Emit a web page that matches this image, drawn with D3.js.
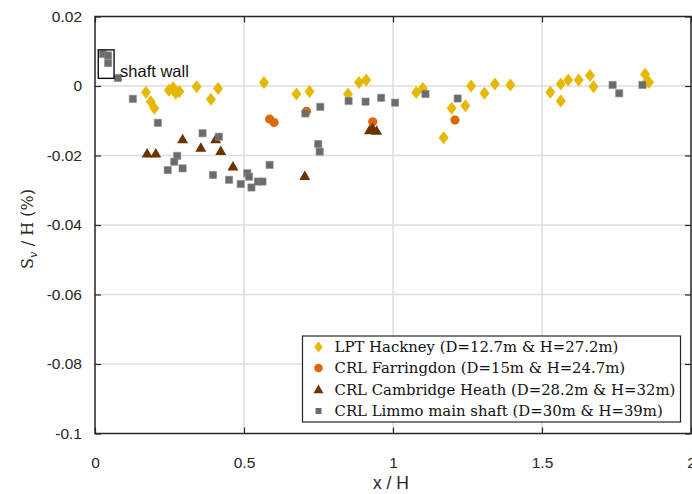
<!DOCTYPE html>
<html>
<head>
<meta charset="utf-8">
<script src="https://cdn.jsdelivr.net/npm/d3@7"></script>
<style>
  body { margin: 0; background: #fff; }
  svg { display: block; }
</style>
</head>
<body>
<div id="graph_draw"></div>
<script>
// values: [x/H, Sv/H (%)]
var hackney = [[0.171,-0.0018],[0.187,-0.0045],[0.199,-0.0064],[0.248,-0.0012],[0.262,-0.0005],[0.271,-0.0021],
    [0.283,-0.0016],[0.341,-0.0002],[0.389,-0.0038],[0.413,-0.0007],[0.567,0.0010],[0.676,-0.0023],[0.720,-0.0016],
    [0.849,-0.0023],[0.886,0.0010],[0.910,0.0017],[1.078,-0.0019],[1.100,-0.0007],[1.170,-0.0149],[1.197,-0.0064],
    [1.243,-0.0057],[1.262,0.0000],[1.307,-0.0021],[1.342,0.0006],[1.394,0.0003],[1.528,-0.0018],[1.563,0.0006],
    [1.563,-0.0043],[1.588,0.0017],[1.623,0.0017],[1.661,0.0030],[1.673,-0.0002],[1.846,0.0034],[1.852,0.0013],[1.859,0.0011]];
var farringdon = [[0.586,-0.0095],[0.601,-0.0105],[0.710,-0.0073],[0.932,-0.0103],[1.208,-0.0098]];
var cambridge = [[0.175,-0.0194],[0.204,-0.0194],[0.294,-0.0153],[0.355,-0.0178],[0.405,-0.0153],[0.422,-0.0187],
    [0.463,-0.0232],[0.704,-0.0259],[0.921,-0.0127],[0.931,-0.0121],[0.945,-0.0129]];
var limmo = [[0.027,0.0092],[0.044,0.0088],[0.044,0.0066],[0.077,0.0023],[0.127,-0.0037],[0.211,-0.0106],
    [0.361,-0.0136],[0.416,-0.0146],[0.276,-0.0201],[0.266,-0.0218],[0.244,-0.0242],[0.294,-0.0237],[0.396,-0.0256],
    [0.450,-0.0270],[0.489,-0.0282],[0.511,-0.0251],[0.517,-0.0261],[0.525,-0.0292],[0.547,-0.0275],[0.562,-0.0275],
    [0.586,-0.0227],[0.706,-0.0079],[0.756,-0.0060],[0.749,-0.0167],[0.754,-0.0189],[0.851,-0.0043],[0.908,-0.0045],
    [0.960,-0.0034],[1.007,-0.0048],[1.109,-0.0023],[1.217,-0.0036],[1.737,0.0003],[1.759,-0.0021],[1.837,0.0003]];

var legendLabels = ["LPT Hackney (D=12.7m & H=27.2m)", "CRL Farringdon (D=15m & H=24.7m)",
    "CRL Cambridge Heath (D=28.2m & H=32m)", "CRL Limmo main shaft (D=30m & H=39m)"];
var xTicks = [0, 0.5, 1, 1.5, 2];
var yTicks = [0.02, 0, -0.02, -0.04, -0.06, -0.08, -0.1];
var shaftBox = [0.011, 0.0104, 0.064, 0.0022]; // x0, y0, x1, y1 of the "shaft wall" box

var margin = {top: 16.5, right: 1, bottom: 60.5, left: 95},
    W = 692, H = 494,
    width = W - margin.left - margin.right,
    height = H - margin.top - margin.bottom;

var sans = "'Liberation Sans', Arial, sans-serif",
    serif = "'DejaVu Serif', 'Liberation Serif', serif";

var svg = d3.select("#graph_draw").append("svg")
    .attr("width", W).attr("height", H);
var g = svg.append("g")
    .attr("transform", "translate(" + margin.left + "," + margin.top + ")");

var x = d3.scaleLinear().domain([0, 2]).range([0, width]);
var y = d3.scaleLinear().domain([-0.1, 0.02]).range([height, 0]);

// gridlines
g.append("g").selectAll("line").data(xTicks.slice(1, -1)).enter().append("line")
    .attr("x1", d => x(d)).attr("x2", d => x(d)).attr("y1", 0).attr("y2", height)
    .attr("stroke", "#dedede").attr("stroke-width", 1.5);
g.append("g").selectAll("line").data(yTicks.slice(1, -1)).enter().append("line")
    .attr("y1", d => y(d)).attr("y2", d => y(d)).attr("x1", 0).attr("x2", width)
    .attr("stroke", "#dedede").attr("stroke-width", 1.5);

// markers
var sym = {
    diamond: "M0,-6.5L5,0L0,6.5L-5,0Z",
    triangle: "M0,-5.5L5.5,4L-5.5,4Z",
    square: "M-3.6,-3.6H3.6V3.6H-3.6Z"
};

g.append("g").selectAll("path").data(hackney).enter().append("path")
    .attr("d", sym.diamond).attr("fill", "#e6b800")
    .attr("transform", d => "translate(" + x(d[0]) + "," + y(d[1]) + ")");
g.append("g").selectAll("circle").data(farringdon).enter().append("circle")
    .attr("r", 4.6).attr("fill", "#d9690a")
    .attr("cx", d => x(d[0])).attr("cy", d => y(d[1]));
g.append("g").selectAll("path").data(cambridge).enter().append("path")
    .attr("d", sym.triangle).attr("fill", "#6a3300")
    .attr("transform", d => "translate(" + x(d[0]) + "," + y(d[1]) + ")");
g.append("g").selectAll("path").data(limmo).enter().append("path")
    .attr("d", sym.square).attr("fill", "#6b6b6b").attr("stroke", "#8a8a8a").attr("stroke-width", 0.6)
    .attr("transform", d => "translate(" + x(d[0]) + "," + y(d[1]) + ")");

// axes with inward ticks on all sides
var axisColor = "#262626";
var fmt = d => String(d); // plain hyphen minus like the figure
function styleAxis(sel) {
    sel.select(".domain").remove();
    sel.selectAll(".tick line").attr("stroke", axisColor).attr("stroke-width", 1.2);
    sel.selectAll(".tick text").attr("fill", "#262626")
        .style("font-family", sans).style("font-size", "15.5px");
}
g.append("g").attr("transform", "translate(0," + height + ")")
    .call(d3.axisBottom(x).tickValues(xTicks).tickFormat(fmt).tickSizeInner(-6).tickPadding(23))
    .call(styleAxis);
g.append("g")
    .call(d3.axisTop(x).tickValues(xTicks).tickFormat("").tickSizeInner(-6))
    .call(styleAxis);
g.append("g")
    .call(d3.axisLeft(y).tickValues(yTicks).tickFormat(fmt).tickSizeInner(-6).tickPadding(13))
    .call(styleAxis);
g.append("g").attr("transform", "translate(" + width + ",0)")
    .call(d3.axisRight(y).tickValues(yTicks).tickFormat("").tickSizeInner(-6))
    .call(styleAxis);

g.append("rect").attr("width", width).attr("height", height)
    .attr("fill", "none").attr("stroke", axisColor).attr("stroke-width", 1.5);

// shaft wall annotation
g.append("rect")
    .attr("x", x(shaftBox[0])).attr("y", y(shaftBox[1]))
    .attr("width", x(shaftBox[2]) - x(shaftBox[0])).attr("height", y(shaftBox[3]) - y(shaftBox[1]))
    .attr("fill", "none").attr("stroke", "#111").attr("stroke-width", 1.4);
g.append("text")
    .attr("x", x(shaftBox[2]) + 6).attr("y", y(shaftBox[3]) - 1)
    .style("font-family", sans).style("font-size", "16.5px")
    .attr("fill", "#111").text("shaft wall");

// axis labels
svg.append("text")
    .attr("x", margin.left + width / 2 - 2).attr("y", 489)
    .attr("text-anchor", "middle")
    .style("font-family", sans).style("font-size", "17.5px")
    .attr("fill", "#262626").text("x / H");

var yl = svg.append("text")
    .attr("transform", "translate(33," + (margin.top + height / 2 + 4) + ") rotate(-90)")
    .attr("text-anchor", "middle")
    .style("font-family", serif).style("font-size", "16px")
    .attr("fill", "#262626");
yl.append("tspan").text("S");
yl.append("tspan").attr("dy", 4).style("font-size", "11.5px").style("font-style", "italic").text("v");
yl.append("tspan").attr("dy", -4).text(" / H (%)");

// legend
var lg = svg.append("g").attr("transform", "translate(302.5,336)");
lg.append("rect").attr("width", 378).attr("height", 86)
    .attr("fill", "#fff").attr("stroke", axisColor).attr("stroke-width", 1.2);
var rowY = [11, 32, 53.5, 75];
var legMarks = [
    p => p.append("path").attr("d", "M0,-5.5L4.2,0L0,5.5L-4.2,0Z").attr("fill", "#e6b800"),
    p => p.append("circle").attr("r", 4.3).attr("fill", "#d9690a"),
    p => p.append("path").attr("d", "M0,-5L5,3.8L-5,3.8Z").attr("fill", "#6a3300"),
    p => p.append("path").attr("d", "M-3,-3H3V3H-3Z").attr("fill", "#6b6b6b")
];
legendLabels.forEach(function (lab, i) {
    var row = lg.append("g").attr("transform", "translate(0," + rowY[i] + ")");
    legMarks[i](row.append("g").attr("transform", "translate(16,0)"));
    row.append("text").attr("class", "legtext").attr("x", 32).attr("y", 5)
        .style("font-family", serif).style("font-size", "14px")
        .attr("fill", "#111").text(lab);
});
// fit legend font so the longest entry spans the same width as in the figure
var longest = lg.selectAll(".legtext").nodes()[2];
var fs = 14 * 341 / longest.getComputedTextLength();
lg.selectAll(".legtext").style("font-size", fs.toFixed(2) + "px");
</script>
</body>
</html>
